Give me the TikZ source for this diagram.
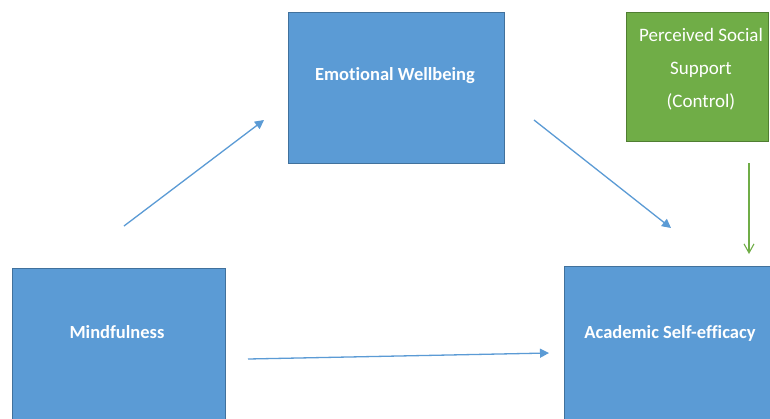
\documentclass[tikz,border=0pt]{standalone}
\usepackage{fontspec}
\setmainfont{Carlito}[Ligatures=NoCommon]
\usepackage{xcolor}
\usetikzlibrary{arrows.meta}
\definecolor{boxblue}{HTML}{5B9BD5}
\definecolor{edgeblue}{HTML}{41719C}
\definecolor{boxgreen}{HTML}{70AD47}
\definecolor{edgegreen}{HTML}{507E32}
\tikzset{
	varbox/.style={draw=edgeblue, fill=boxblue, line width=0.9pt, inner sep=0pt},
	ctrlbox/.style={draw=edgegreen, fill=boxgreen, line width=0.9pt, inner sep=0pt},
	varname/.style={text=white, font=\bfseries\fontsize{18.5}{20}\selectfont},
	link/.style={draw=boxblue, line width=1.3pt, -{Triangle[length=9pt,width=9pt]}},
	ctrllink/.style={draw=boxgreen, line width=1.1pt, -{Straight Barb[length=9pt,width=10pt]}}
}
\begin{document}
\begin{tikzpicture}[x=1pt,y=-1pt]
	\clip (0,0) rectangle (770,418);
	\fill[white] (0,0) rectangle (770,418);
	\node[varbox, minimum width=216pt, minimum height=151pt] (ew) at (396,87.5) {};
	\node[ctrlbox, minimum width=142pt, minimum height=129pt] (pss) at (697,76.5) {};
	\node[varbox, minimum width=213pt, minimum height=162pt] (mind) at (118.5,349) {};
	\node[varbox, minimum width=226pt, minimum height=164pt] (ase) at (677,348) {};
	\node[varname] (ewtext) at (395,76) {Emotional Wellbeing};
	\node[varname] (mindtext) at (117,332) {Mindfulness};
	\node[varname] (asetext) at (670,333) {Academic Self-efficacy};
	\node[text=white, align=center, font=\fontsize{19}{33}\selectfont] (psstext) at (701,69) {Perceived Social\\Support\\(Control)};
	\coordinate (a1) at (124,226);
	\coordinate (a2) at (264,120);
	\coordinate (b1) at (534,120);
	\coordinate (b2) at (671,228);
	\coordinate (c1) at (248,359);
	\coordinate (c2) at (549,353);
	\coordinate (d1) at (749,163);
	\coordinate (d2) at (749,254);
	\draw[link] (a1) -- (a2);
	\draw[link] (b1) -- (b2);
	\draw[link] (c1) -- (c2);
	\draw[ctrllink] (d1) -- (d2);
\end{tikzpicture}
\end{document}
